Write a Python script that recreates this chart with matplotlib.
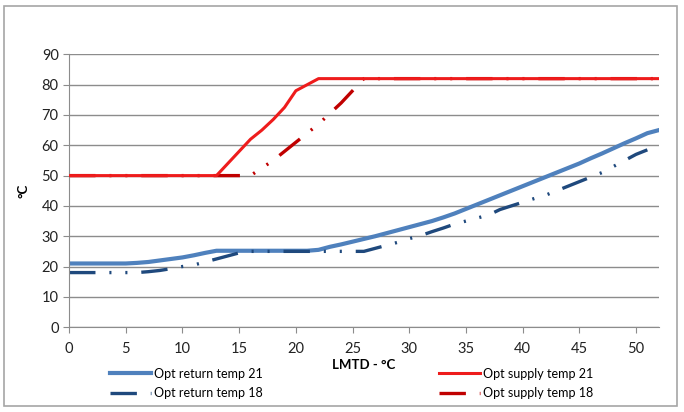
import matplotlib.pyplot as plt
from matplotlib.patches import Rectangle

plt.rcParams['font.family'] = ['Lato', 'DejaVu Sans']

# LMTD (x) and optimal temperatures
x_ret21 = list(range(0, 53))
ret21 = [21, 21, 21, 21, 21, 21, 21.2, 21.5, 22, 22.5, 23, 23.7, 24.5, 25.2,
         25.2, 25.2, 25.2, 25.2, 25.2, 25.2, 25.2, 25.2, 25.5, 26.5, 27.3, 28.2,
         29.1, 30, 31, 32, 33, 34, 35, 36.2, 37.5, 39, 40.5, 42, 43.5, 45, 46.5,
         48, 49.5, 51, 52.5, 54, 55.7, 57.3, 59, 60.7, 62.3, 64, 65]

x_ret18 = list(range(0, 52))
ret18 = [18, 18, 18, 18, 18, 18, 18, 18.3, 18.7, 19.3, 20, 20.5, 21.5, 22.5,
         23.5, 24.5, 25, 25, 25, 25, 25, 25, 25, 25, 25, 25, 25, 26, 27, 28,
         29.2, 30.2, 31.5, 32.7, 34, 35, 36, 37, 38.8, 40, 41.2, 42.4, 43.5, 45,
         46.5, 48, 49.5, 51, 53, 55, 57, 58.5]

x_sup21 = [0, 13, 14, 15, 16, 17, 18, 19, 20, 21, 22, 52]
sup21 = [50, 50, 54, 58, 62, 65, 68.5, 72.5, 78, 80, 82, 82]

x_sup18 = [0, 16, 18, 20, 22, 24, 25, 26, 52]
sup18 = [50, 50, 55, 61, 67, 74, 78, 82, 82]

c_ret21 = '#4f81bd'
c_ret18 = '#1f497d'
c_sup21 = '#ee1c1c'
c_sup18 = '#c00000'
dashdotdot = (0, (19, 10, 1.5, 10, 1.5, 10))

plt.rcParams['lines.scale_dashes'] = False

fig = plt.figure(figsize=(6.84, 4.12), dpi=100)
ax = fig.add_axes([0.101, 0.206, 0.862, 0.662])

l1, = ax.plot(x_ret21, ret21, color=c_ret21, lw=3, label='Opt return temp 21')
l2, = ax.plot(x_ret18, ret18, color=c_ret18, lw=2.4, linestyle=dashdotdot,
              label='Opt return temp 18')
l3, = ax.plot(x_sup21, sup21, color=c_sup21, lw=2.2, label='Opt supply temp 21')
l4, = ax.plot(x_sup18, sup18, color=c_sup18, lw=2.4, linestyle=dashdotdot,
              label='Opt supply temp 18')
l3.set_zorder(3)

ax.set_xlim(0, 52)
ax.set_ylim(0, 90)
ax.set_xticks(range(0, 55, 5))
ax.set_yticks(range(0, 100, 10))
ax.grid(axis='y', color='#8c8c8c', lw=1)
ax.set_axisbelow(True)
for s in ['top', 'right']:
    ax.spines[s].set_visible(False)
for s in ['left', 'bottom']:
    ax.spines[s].set_color('#8c8c8c')
ax.tick_params(colors='#8c8c8c', labelcolor='#222222', labelsize=10.5,
               length=4, direction='out')
ax.tick_params(axis='x', pad=7)

ax.set_xlabel('LMTD - °C', fontsize=9.5, fontweight='bold', labelpad=2)
ax.set_ylabel('°C', fontsize=9.5, fontweight='bold', labelpad=9)

leg_kw = dict(frameon=False, fontsize=9, handlelength=3.3, handletextpad=0.25,
              labelspacing=0.6, borderaxespad=0)
leg1 = fig.legend([l1, l2], ['Opt return temp 21', 'Opt return temp 18'],
                  loc='upper left', bbox_to_anchor=(0.153, 0.12), **leg_kw)
leg2 = fig.legend([l3, l4], ['Opt supply temp 21', 'Opt supply temp 18'],
                  loc='upper left', bbox_to_anchor=(0.634, 0.12), **leg_kw)

fig.patches.append(Rectangle((0.006, 0.015), 0.984, 0.97, transform=fig.transFigure,
                             fill=False, edgecolor='#a6a6a6', lw=1.2))

plt.savefig('out.png', dpi=100)
